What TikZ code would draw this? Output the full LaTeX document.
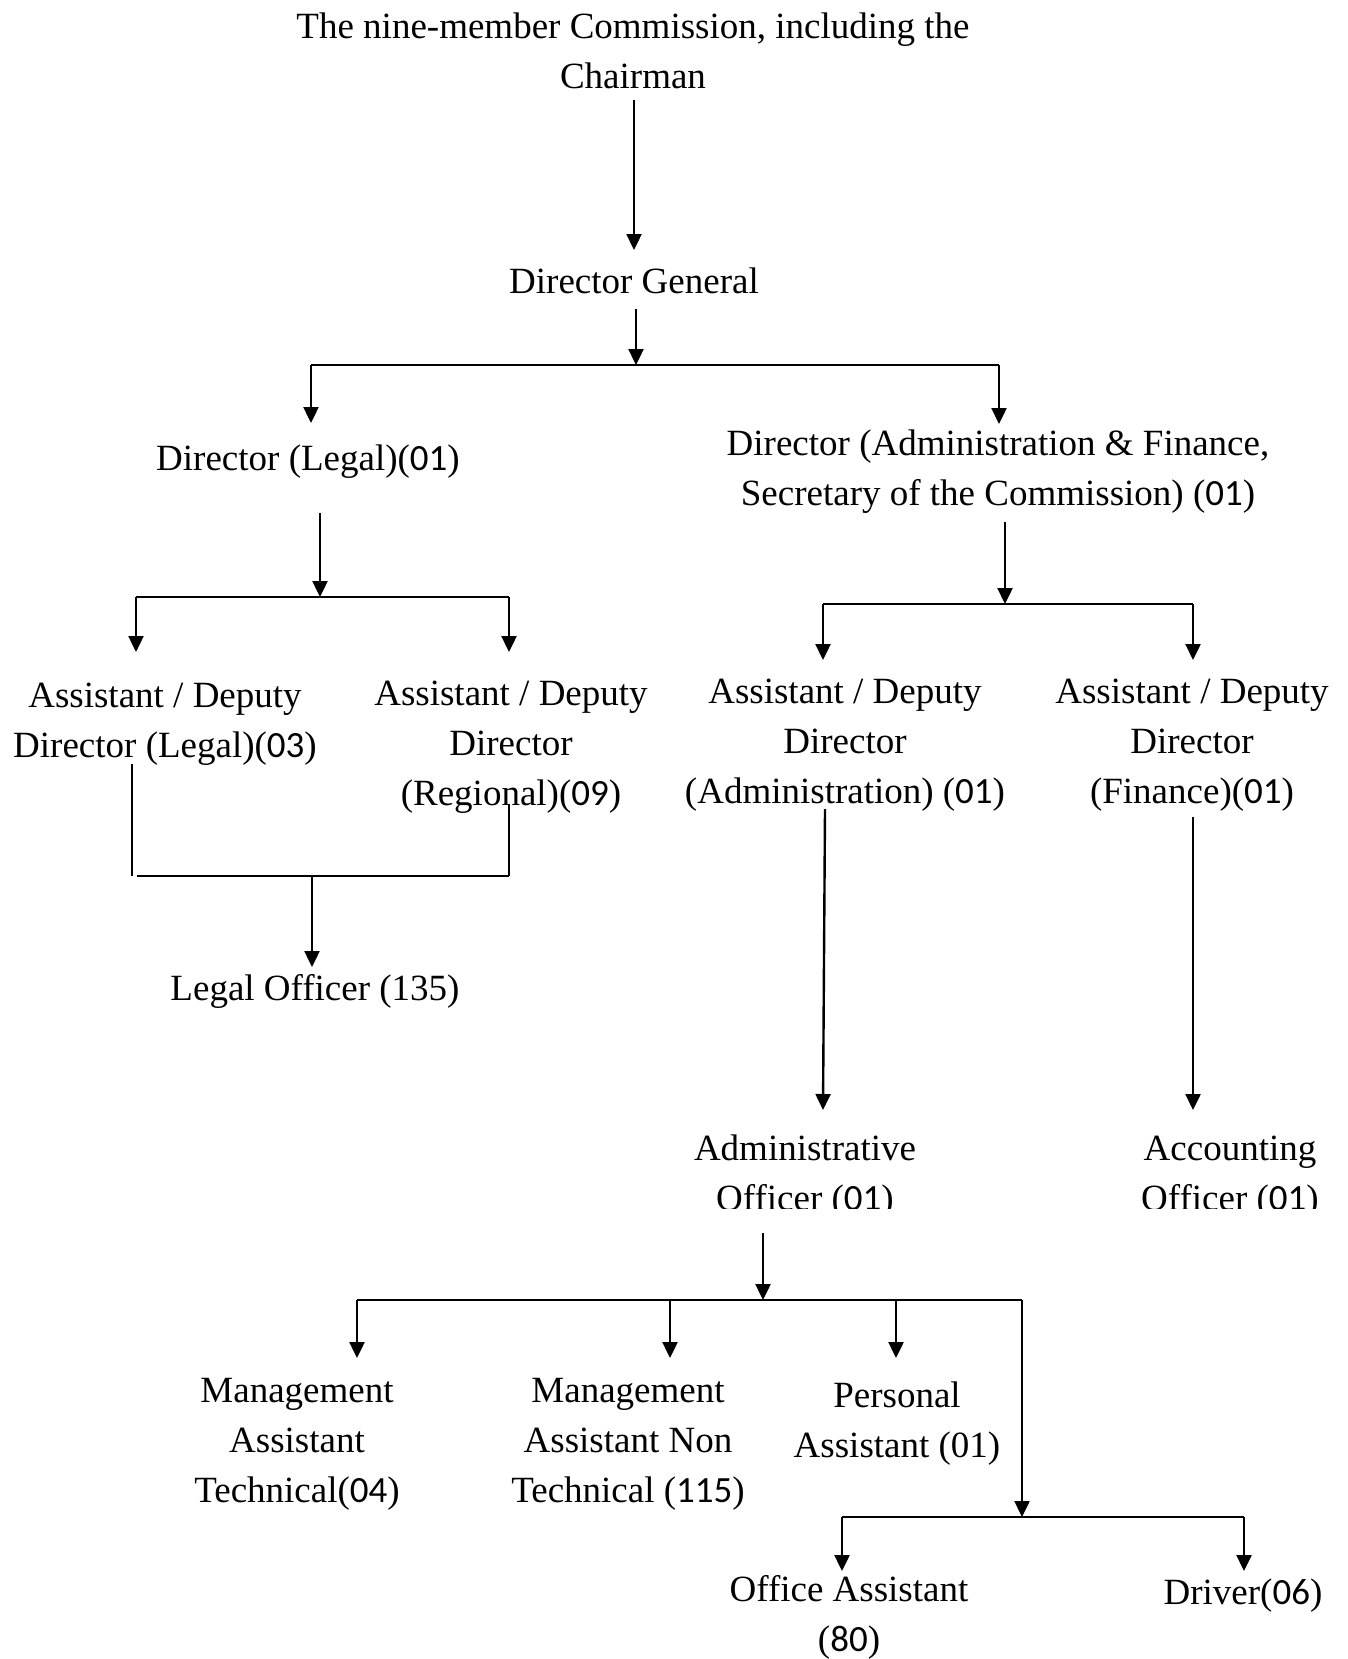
\documentclass[tikz,border=0pt]{standalone}
\usepackage{fontspec}
\setmainfont{Liberation Serif}
\newfontfamily\cbfont{Carlito}
\newcommand\nm[1]{{\cbfont #1}}
\usetikzlibrary{arrows.meta}
\begin{document}
\begin{tikzpicture}[x=0.5pt,y=-0.5pt,
  box/.style={align=center,inner sep=0pt,font=\fontsize{18.5pt}{25pt}\selectfont},
  link/.style={line width=1.05pt},
  arr/.style={line width=1.2pt,-{Triangle[length=8pt,width=7.5pt]}}]
\useasboundingbox (0,0) rectangle (1348,1659);
% nodes
\node[box] (chair) at (633,51) {The nine-member Commission, including the\\Chairman};
\node[box] (dg) at (634,281) {Director General};
\node[box] (dleg) at (308,462) {Director (Legal)(\nm{01})};
\node[box] (dadm) at (998,472) {Director (Administration \& Finance,\\Secretary of the Commission) (\nm{01})};
\node[box] (adl) at (165,724) {Assistant / Deputy\\Director (Legal)(\nm{03})};
\node[box] (adr) at (511,747) {Assistant / Deputy\\Director\\(Regional)(\nm{09})};
\node[box] (ada) at (845,745) {Assistant / Deputy\\Director\\(Administration) (\nm{01})};
\node[box] (adf) at (1192,745) {Assistant / Deputy\\Director\\(Finance)(\nm{01})};
\node[box] (lo) at (315,991) {Legal Officer (135)};
\begin{scope}
\clip (560,1100) rectangle (1348,1208);
\node[box] (ao) at (805,1177) {Administrative\\Officer (\nm{01})};
\node[box] (acc) at (1230,1177) {Accounting\\Officer (\nm{01})};
\end{scope}
\node[box] (mat) at (297,1444) {Management\\Assistant\\Technical(\nm{04})};
\node[box] (man) at (628,1444) {Management\\Assistant Non\\Technical (\nm{115})};
\node[box] (pa) at (897,1424) {Personal\\Assistant (01)};
\node[box] (oa) at (849,1617) {Office Assistant\\(\nm{80})};
\node[box] (drv) at (1243,1596) {Driver(\nm{06})};
% coordinates
\coordinate (c1) at (634,100); \coordinate (c2) at (634,250);
\coordinate (c3) at (636,309); \coordinate (b1m) at (636,365);
\coordinate (b1l) at (311,365); \coordinate (b1r) at (999,365);
\coordinate (t1l) at (311,423); \coordinate (t1r) at (999,424);
\coordinate (c4) at (320,513); \coordinate (b2m) at (320,597);
\coordinate (b2l) at (136,597); \coordinate (b2r) at (509,597);
\coordinate (t2l) at (136,652); \coordinate (t2r) at (509,652);
\coordinate (c5) at (132,764); \coordinate (c5b) at (132,876);
\coordinate (c6) at (509,804); \coordinate (b3r) at (509,876);
\coordinate (b3l) at (137,876); \coordinate (b3m) at (312,876);
\coordinate (t3) at (312,967);
\coordinate (c7) at (1005,522); \coordinate (b4m) at (1005,604);
\coordinate (b4l) at (823,604); \coordinate (b4r) at (1193,604);
\coordinate (t4l) at (823,660); \coordinate (t4r) at (1193,660);
\coordinate (c8) at (825,809); \coordinate (t5l) at (823,1110);
\coordinate (c9) at (1193,817); \coordinate (t5r) at (1193,1110);
\coordinate (c10) at (763,1233); \coordinate (b5m) at (763,1300);
\coordinate (b5a) at (357,1300); \coordinate (b5b) at (670,1300);
\coordinate (b5c) at (896,1300); \coordinate (b5d) at (1022,1300);
\coordinate (t6a) at (357,1358); \coordinate (t6b) at (670,1358);
\coordinate (t6c) at (896,1358); \coordinate (b6m) at (1022,1517);
\coordinate (b6l) at (842,1517); \coordinate (b6r) at (1244,1517);
\coordinate (t7l) at (842,1571); \coordinate (t7r) at (1244,1571);
% connectors
\draw[arr] (c1) -- (c2);
\draw[arr] (c3) -- (b1m);
\draw[link] (b1l) -- (b1r);
\draw[arr] (b1l) -- (t1l);
\draw[arr] (b1r) -- (t1r);
\draw[arr] (c4) -- (b2m);
\draw[link] (b2l) -- (b2r);
\draw[arr] (b2l) -- (t2l);
\draw[arr] (b2r) -- (t2r);
\draw[link] (c5) -- (c5b);
\draw[link] (c6) -- (b3r);
\draw[link] (b3l) -- (b3r);
\draw[arr] (b3m) -- (t3);
\draw[arr] (c7) -- (b4m);
\draw[link] (b4l) -- (b4r);
\draw[arr] (b4l) -- (t4l);
\draw[arr] (b4r) -- (t4r);
\draw[arr] (c8) -- (t5l);
\draw[arr] (c9) -- (t5r);
\draw[arr] (c10) -- (b5m);
\draw[link] (b5a) -- (b5d);
\draw[arr] (b5a) -- (t6a);
\draw[arr] (b5b) -- (t6b);
\draw[arr] (b5c) -- (t6c);
\draw[arr] (b5d) -- (b6m);
\draw[link] (b6l) -- (b6r);
\draw[arr] (b6l) -- (t7l);
\draw[arr] (b6r) -- (t7r);
\end{tikzpicture}
\end{document}
